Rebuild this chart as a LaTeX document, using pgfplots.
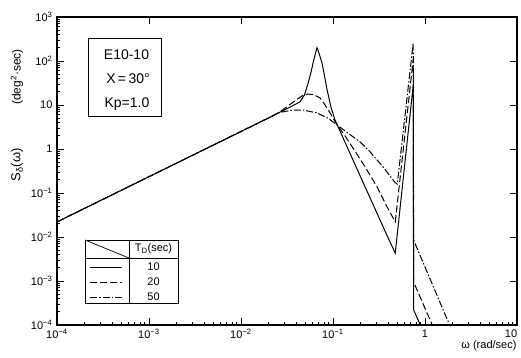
\documentclass[border=0pt]{standalone}
\usepackage{pgfplots}
\pgfplotsset{compat=1.18}
\usepackage{fontspec}
\setmainfont{Liberation Sans}
\begin{document}
\begin{tikzpicture}
\begin{axis}[
  at={(0,0)}, anchor=south west,
  scale only axis, width=460pt, height=308pt,
  xmode=log, ymode=log,
  xmin=1e-4, xmax=10, ymin=1e-4, ymax=1e3,
  tick pos=left,
  xtick={1e-4,1e-3,1e-2,1e-1,1,10},
  xticklabels={10\textsuperscript{−4},10\textsuperscript{−3},10\textsuperscript{−2},10\textsuperscript{−1},1,\hspace*{-12pt}10},
  ytick={1e-4,1e-3,1e-2,1e-1,1,10,100,1000},
  yticklabels={10\textsuperscript{−4},10\textsuperscript{−3},10\textsuperscript{−2},10\textsuperscript{−1},1,10,10\textsuperscript{2},10\textsuperscript{3}},
  axis line style={line width=1.3pt},
  every tick/.style={black, line width=0.8pt},
  major tick length=7pt, minor tick length=3.5pt,
  tick label style={font=\fontsize{11}{13}\selectfont},
  xticklabel style={yshift=-1pt},
  yticklabel style={xshift=-1pt},
]
% Td = 10 s (solid)
\addplot[black, line width=1pt] coordinates {
(1e-4,0.022) (1e-3,0.235) (1e-2,2.5) (0.02,5.1) (0.0265,6.9) (0.035,9.2)
(0.0438,11.8) (0.049,17) (0.0536,31) (0.058,58) (0.0607,90) (0.064,140)
(0.067,200) (0.0705,150) (0.076,90) (0.081,45) (0.0863,22) (0.095,9)
(0.105,4.6) (0.2,0.23) (0.398,0.0095) (0.475,0.0043) (0.745,28.5)
(0.752,2.2e-4) (0.89,1e-4)
};
% Td = 20 s (dashed)
\addplot[black, line width=1pt, dash pattern=on 7pt off 3pt] coordinates {
(1e-4,0.022) (1e-3,0.235) (1e-2,2.5) (0.02,5.1) (0.0265,7) (0.033,9.8)
(0.0407,13.5) (0.047,16.5) (0.0536,17.8) (0.062,17) (0.0724,14.5) (0.082,10)
(0.093,6.6) (0.111,3.5) (0.129,2.3) (0.16,1.16) (0.224,0.39) (0.302,0.137)
(0.388,0.048) (0.475,0.022) (0.745,110) (0.752,9.5e-4) (1.2,1e-4)
};
% Td = 50 s (dash-dot)
\addplot[black, line width=1pt, dash pattern=on 7pt off 2pt on 1.5pt off 2pt] coordinates {
(1e-4,0.022) (1e-3,0.235) (1e-2,2.5) (0.02,5.1) (0.0265,6.8) (0.0368,7.7)
(0.0473,7.7) (0.067,6.6) (0.0885,5.0) (0.111,3.5) (0.15,2.2) (0.197,1.44)
(0.254,0.855) (0.351,0.39) (0.475,0.17) (0.5,0.16) (0.745,260)
(0.752,0.0085) (1.85,1e-4)
};
\end{axis}
\begin{axis}[
  at={(0,0)}, anchor=south west,
  scale only axis, width=460pt, height=308pt,
  xmode=log, ymode=log,
  xmin=1e-4, xmax=10, ymin=1e-4, ymax=1e3,
  tick pos=right,
  xminorticks=false, yminorticks=false,
  xtick={1e-4,1e-3,1e-2,1e-1,1,10},
  ytick={1e-4,1e-3,1e-2,1e-1,1,10,100,1000},
  xticklabels={}, yticklabels={},
  axis line style={line width=1.3pt},
  every tick/.style={black, line width=0.8pt},
  major tick length=7pt,
]
\end{axis}
\begin{scope}[x=1pt,y=1pt]
% info box
\draw[line width=0.9pt] (31,209) rectangle (104,287);
\node[font=\fontsize{14}{16}\selectfont] at (69.5,270) {E10-10};
\node[font=\fontsize{14}{16}\selectfont] at (71,246) {X\,=\,30°};
\node[font=\fontsize{14}{16}\selectfont] at (70,221) {Kp=1.0};
% legend table
\draw[line width=0.9pt] (28,22) rectangle (121,85);
\draw[line width=0.9pt] (28,67) -- (121,67);
\draw[line width=0.9pt] (72,22) -- (72,85);
\draw[line width=0.7pt] (28,85) -- (72,67);
\node[font=\fontsize{11}{13}\selectfont] at (96.5,76) {T\textsubscript{D}(sec)};
\draw[line width=1pt] (33,58) -- (65,58);
\draw[line width=1pt, dash pattern=on 7pt off 3pt] (33,43) -- (65,43);
\draw[line width=1pt, dash pattern=on 7pt off 2pt on 1.5pt off 2pt] (33,28) -- (65,28);
\node[font=\fontsize{11}{13}\selectfont] at (96.5,58) {10};
\node[font=\fontsize{11}{13}\selectfont] at (96.5,43) {20};
\node[font=\fontsize{11}{13}\selectfont] at (96.5,28) {50};
% axis labels
\node[rotate=90, font=\fontsize{12}{14}\selectfont] at (-40,248) {(deg\textsuperscript{2}·sec)};
\node[rotate=90, font=\fontsize{13}{15}\selectfont] at (-40,160) {S\textsubscript{δ}(ω)};
\node[anchor=east, font=\fontsize{11}{13}\selectfont] at (463,-21) {ω (rad/sec)};
\pgfresetboundingbox
\path (-57,-32) rectangle (464,325);
\end{scope}
\end{tikzpicture}
\end{document}
